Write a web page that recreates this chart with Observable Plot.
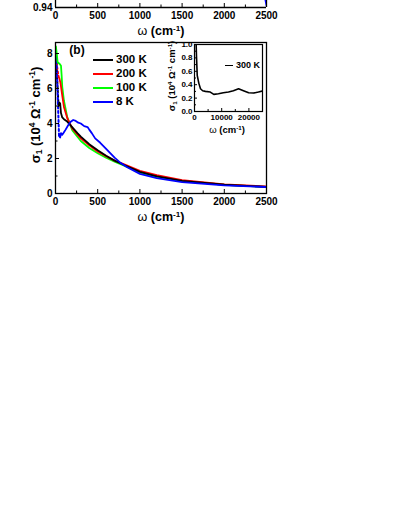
<!DOCTYPE html>
<html>
<head>
<meta charset="utf-8">
<script src="https://cdn.jsdelivr.net/npm/d3@7"></script>
<script src="https://cdn.jsdelivr.net/npm/@observablehq/plot@0.6"></script>
<style>
  html, body { margin: 0; padding: 0; background: #fff; }
  #wrap { position: relative; width: 409px; height: 529px; overflow: hidden; font-family: "Liberation Sans", Arial, sans-serif; font-weight: bold; color: #000; }
  #wrap svg { position: absolute; left: 0; top: 0; background: transparent; }
  .lbl { position: absolute; white-space: nowrap; line-height: 1; transform: translate(-50%, -50%); }
  .rot { transform: translate(-50%, -50%) rotate(-90deg); }
  sup { font-size: 65%; vertical-align: 0.5em; line-height: 0; }
  sub { font-size: 65%; vertical-align: -0.25em; line-height: 0; }
  .om { font-weight: normal; }
  .leg { position: absolute; display: flex; align-items: center; white-space: nowrap; line-height: 1; }
  .sw { display: inline-block; height: 0; border-top-style: solid; }
</style>
</head>
<body>
<div id="wrap"></div>
<script>
// ---------- data ----------
const temps = ["300 K", "200 K", "100 K", "8 K"];
const colors = ["#000000", "#ff0000", "#00ff00", "#0000ff"];

// low-frequency extrapolations (dotted)
const w300dot = [5, 15, 25, 35];
const s300dot = [8.2, 7.0, 6.0, 5.1];
const w200dot = [5, 20, 35];
const s200dot = [8.0, 7.2, 6.7];
const w8dot = [10, 20, 30, 42];
const s8dot = [7.8, 6.5, 5.0, 3.3];

// measured spectra (solid)
const w300 = [35, 45, 55, 65, 80, 100, 130, 160, 200, 260, 300, 400, 500, 600, 700, 800, 1000, 1200, 1500, 2000, 2500];
const s300 = [5.0, 5.2, 5.15, 4.6, 4.35, 4.25, 4.15, 4.0, 3.78, 3.45, 3.25, 2.82, 2.47, 2.16, 1.88, 1.66, 1.24, 0.98, 0.72, 0.5, 0.38];
const w200 = [35, 45, 60, 80, 100, 140, 200, 300, 400, 500, 600, 700, 800, 1000, 1200, 1500, 2000, 2500];
const s200 = [6.7, 6.6, 6.3, 5.6, 4.95, 4.3, 3.7, 3.15, 2.75, 2.4, 2.13, 1.88, 1.7, 1.3, 1.05, 0.77, 0.52, 0.4];
const w100 = [5, 15, 25, 50, 65, 72, 80, 100, 140, 200, 300, 400, 500, 600, 700, 800, 1000, 1200, 1500, 2000, 2500];
const s100 = [8.4, 8.0, 7.5, 7.4, 7.3, 6.8, 6.1, 5.3, 4.35, 3.6, 3.0, 2.6, 2.3, 2.04, 1.82, 1.62, 1.2, 0.97, 0.72, 0.5, 0.38];
const w8 = [42, 55, 65, 80, 100, 120, 150, 180, 210, 240, 270, 300, 340, 380, 400, 430, 470, 530, 600, 700, 770, 850, 1000, 1200, 1500, 2000, 2500];
const s8 = [3.3, 3.2, 3.45, 3.35, 3.5, 3.65, 3.9, 4.1, 4.2, 4.15, 4.05, 4.0, 3.85, 3.8, 3.65, 3.45, 3.15, 2.9, 2.55, 2.05, 1.75, 1.5, 1.12, 0.88, 0.65, 0.47, 0.37];

// inset: 300 K broad range
const wInset = [400, 735, 1000, 1600, 2200, 3000, 4000, 5800, 7100, 8800, 10600, 12500, 14300, 16200, 18000, 19900, 21700, 23500, 25000];
const sInset = [1.3, 0.82, 0.54, 0.42, 0.34, 0.31, 0.30, 0.29, 0.255, 0.265, 0.28, 0.29, 0.31, 0.34, 0.31, 0.28, 0.275, 0.29, 0.305];

// remnant of upper panel (8 K reflectance end)
const wTop = [2485, 2500];
const rTop = [0.952, 0.943];

// ticks
const xMajor = [0, 500, 1000, 1500, 2000, 2500];
const xMinor = [250, 750, 1250, 1750, 2250];
const yMajor = [0, 2, 4, 6, 8];
const yMinor = [1, 3, 5, 7];
const insetXMajor = [0, 10000, 20000];
const insetXMinor = [5000, 15000, 25000];
const insetYMajor = [0, 0.2, 0.4, 0.6, 0.8, 1.0];
const insetYMinor = [0.1, 0.3, 0.5, 0.7, 0.9];

// ---------- helpers ----------
const zip = (ws, ss) => ws.map((w, i) => ({w, s: ss[i]}));
const solid = [zip(w300, s300), zip(w200, s200), zip(w100, s100), zip(w8, s8)];
const dotted = [zip(w300dot, s300dot), zip(w200dot, s200dot), null, zip(w8dot, s8dot)];
const font = {fontFamily: "Liberation Sans, Arial, sans-serif", fontWeight: "bold"};
const fmtInt = d3.format("d");
const wrap = document.getElementById("wrap");

// ticks-only axis (no text) and text-only axis helpers
const ticksX = (ticks, size) => Plot.axisX({ticks, tickSize: -size, fill: null, label: null, stroke: "#000"});
const ticksY = (ticks, size) => Plot.axisY({ticks, tickSize: -size, fill: null, label: null, stroke: "#000"});
const textX = (ticks, size, pad, fmt) => Plot.axisX({ticks, tickSize: 0, tickPadding: pad, fontSize: size, ...font, tickFormat: fmt, label: null, fill: "#000"});
const textY = (ticks, size, pad, fmt) => Plot.axisY({ticks, tickSize: 0, tickPadding: pad, fontSize: size, ...font, tickFormat: fmt, label: null, fill: "#000"});

// ---------- upper panel remnant ----------
const upperPlot = Plot.plot({
  width: 409, height: 40,
  marginLeft: 55, marginRight: 143, marginTop: 0, marginBottom: 33,
  style: {background: "transparent", overflow: "visible"},
  x: {domain: [0, 2500]},
  y: {domain: [0.94, 0.95]},
  marks: [
    Plot.ruleX([0, 2500], {stroke: "#000", strokeWidth: 1.3}),
    Plot.ruleY([0.94], {stroke: "#000", strokeWidth: 1.3}),
    Plot.line(zip(wTop, rTop), {x: "w", y: "s", stroke: colors[3], strokeWidth: 1.8, clip: true}),
    ticksX(xMajor, 4),
    ticksX(xMinor, 2.5),
    textX(xMajor, 10, 4, fmtInt),
    textY([0.94], 10, 3, d3.format(".2f"))
  ]
});
wrap.appendChild(upperPlot);

// ---------- main panel (b) ----------
const lineMarks = [];
solid.forEach((d, i) => {
  if (dotted[i]) lineMarks.push(Plot.line(dotted[i], {x: "w", y: "s", stroke: colors[i], strokeWidth: 2, strokeDasharray: "2,2.5", clip: true}));
});
[2, 1, 0, 3].forEach(i => lineMarks.push(Plot.line(solid[i], {x: "w", y: "s", stroke: colors[i], strokeWidth: 1.8, clip: true})));

const mainPlot = Plot.plot({
  width: 409, height: 230,
  marginLeft: 55, marginRight: 143, marginTop: 42, marginBottom: 37,
  style: {background: "transparent", overflow: "visible"},
  x: {domain: [0, 2500]},
  y: {domain: [0, 8.63]},
  marks: [
    ...lineMarks,
    ticksX(xMajor, 4),
    ticksX(xMinor, 2.5),
    ticksY(yMajor, 4),
    ticksY(yMinor, 2.5),
    textX(xMajor, 10, 4, fmtInt),
    textY(yMajor, 10, 3, fmtInt),
    Plot.frame({stroke: "#000", strokeWidth: 1.3})
  ]
});
wrap.appendChild(mainPlot);

// ---------- inset ----------
const insetPlot = Plot.plot({
  width: 409, height: 140,
  marginLeft: 194, marginRight: 147, marginTop: 44, marginBottom: 29,
  style: {background: "transparent", overflow: "visible"},
  x: {domain: [0, 25000]},
  y: {domain: [0, 1.0]},
  marks: [
    Plot.frame({fill: "#fff", stroke: null}),
    Plot.line(zip(wInset, sInset), {x: "w", y: "s", stroke: colors[0], strokeWidth: 1.6, clip: true}),
    ticksX(insetXMajor, 3),
    ticksX(insetXMinor, 2),
    ticksY(insetYMajor, 3),
    ticksY(insetYMinor, 2),
    textX(insetXMajor, 8, 3, fmtInt),
    textY(insetYMajor, 8, 2, d3.format(".1f")),
    Plot.frame({stroke: "#000", strokeWidth: 1.2})
  ]
});
wrap.appendChild(insetPlot);

// ---------- titles and legends ----------
function addLabel(html, x, y, size, rot) {
  const d = document.createElement("div");
  d.className = "lbl" + (rot ? " rot" : "");
  d.style.left = x + "px"; d.style.top = y + "px"; d.style.fontSize = size + "px";
  d.innerHTML = html;
  wrap.appendChild(d);
}
const omegaTitle = '<span class="om">ω</span> (cm<sup>-1</sup>)';
const sigmaTitle = 'σ<sub>1</sub> (10<sup>4</sup> Ω<sup>-1</sup> cm<sup>-1</sup>)';
addLabel(omegaTitle, 161, 31, 12.5);
addLabel(omegaTitle, 161, 217, 12.5);
addLabel(sigmaTitle, 35, 115, 13, true);
addLabel("(b)", 77, 50, 12);
addLabel(omegaTitle, 227, 130, 9.5);
addLabel(sigmaTitle, 172, 76, 9.5, true);

function addLegend(text, color, x, y, lineW, size, strokeW) {
  const d = document.createElement("div");
  d.className = "leg";
  d.style.left = x + "px"; d.style.top = (y - size / 2) + "px"; d.style.height = size + "px"; d.style.fontSize = size + "px";
  const sw = document.createElement("span");
  sw.className = "sw";
  sw.style.width = lineW + "px"; sw.style.borderTopWidth = strokeW + "px"; sw.style.borderTopColor = color;
  sw.style.marginRight = "3px";
  const t = document.createElement("span");
  t.textContent = text;
  d.appendChild(sw); d.appendChild(t);
  wrap.appendChild(d);
}
temps.forEach((t, i) => addLegend(t, colors[i], 93, 60 + i * 14, 20, 11.5, 2));
addLegend(temps[0], colors[0], 225, 65, 8, 9, 1.6);
</script>
</body>
</html>
